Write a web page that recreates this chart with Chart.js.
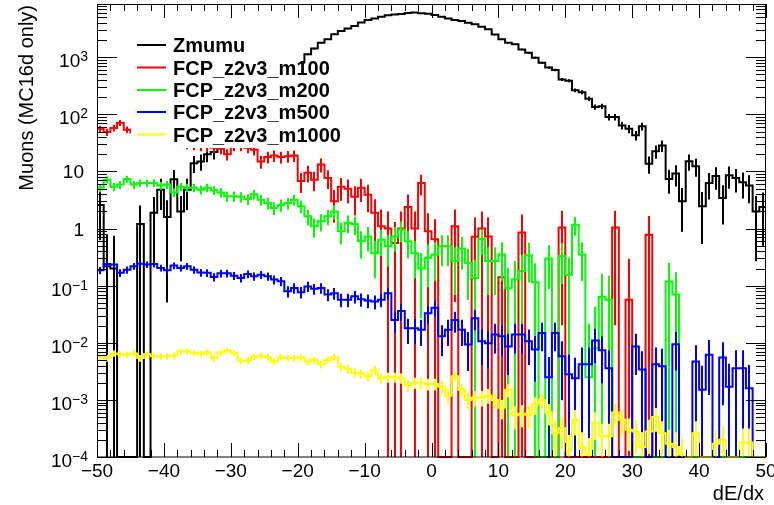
<!DOCTYPE html>
<html>
<head>
<meta charset="utf-8">
<title>dE/dx</title>
<script src="https://cdn.jsdelivr.net/npm/chart.js@4.4.0/dist/chart.umd.min.js"></script>
<style>
  html, body { margin: 0; padding: 0; background: #ffffff; }
  canvas { display: block; }
</style>
</head>
<body>
<canvas id="dedx" width="774" height="505"></canvas>
<script>
// 100 bins of width 1 between -50 and 50
var xLow = -50, xHigh = 50;
var yMin = 1e-4, yMax = 8570;

var zmumu = [
  2.6, 0.22, 0.2, 0, 0, 0, 1.2, 0, 1.9, 4.8,
  1.6, 7.3, 2.0, 4.8, 14, 15, 20, 22, 30, 38,
  50, 65, 86, 115, 150, 200, 265, 350, 460, 610,
  807, 1130, 1420, 1800, 2070, 2520, 2880, 3180, 3540, 4050,
  4480, 4800, 5130, 5430, 5640, 5730, 5970, 6060, 5900, 5810,
  5500, 5130, 4800, 4480, 4300, 4040, 3780, 3440, 3100, 2500,
  2070, 1800, 1690, 1370, 1200, 980, 800, 660, 600, 410,
  390, 265, 245, 188, 135, 139, 90, 90, 64, 56,
  43, 62, 13.7, 22.6, 28.5, 7.4, 9.2, 3.0, 15.1, 12.4,
  2.46, 6.3, 8.3, 3.45, 8.6, 7.7, 6.5, 5.7, 2.0, 2.4
];
var m100 = [
  56, 49, 58, 71, 54, 48, 45, 42, 40, 38,
  36, 34, 32, 30, 29, 28, 27, 26, 25, 20,
  28, 28, 26, 24, 15, 18, 19, 18, 18.5, 19,
  6.8, 9.5, 7.2, 13.2, 7.7, 3.0, 5.4, 5.0, 3.6, 5.2,
  3.9, 1.9, 1.1, 1.0, 0.56, 1.0, 2.4, 1.0, 6.3, 0.9,
  0.65, 0, 0, 1.1, 0, 0, 0.72, 1.0, 0.73, 0,
  0.14, 0, 0, 0.85, 0, 0, 0, 0, 0, 1.04,
  0, 0, 0, 0, 0, 0, 0, 1.04, 0, 0.057,
  0, 0, 0.78, 0, 0, 0, 0, 0, 0, 0,
  0, 0, 0, 0, 0, 0, 0, 0, 0, 0
];
var m200 = [
  5.2, 7.2, 5.4, 5.9, 7.4, 5.9, 6.3, 6.3, 6.3, 5.7,
  5.9, 4.3, 5.4, 5.2, 5.2, 4.8, 5.2, 4.7, 4.3, 3.7,
  3.7, 3.6, 3.3, 4.0, 3.2, 2.8, 2.3, 2.6, 2.8, 3.2,
  2.46, 1.64, 1.1, 1.34, 1.64, 2.0, 0.9, 1.26, 1.2, 0.6,
  0.73, 0.37, 0.64, 0.49, 0.73, 0.96, 0.6, 0.37, 0.2, 0.31,
  0.35, 0.49, 0.49, 0.27, 0.45, 0.25, 0.137, 0.66, 0.27, 0.27,
  0.35, 0.09, 0.13, 0.18, 0.34, 0.115, 0, 0.3, 0, 0.33,
  0.156, 1.17, 0.35, 0.0025, 0.008, 0.064, 0.057, 0, 0, 0,
  0, 0, 0, 0, 0, 0.118, 0.07, 0, 0, 0,
  0, 0, 0, 0, 0, 0, 0, 0, 0, 0
];
var m500 = [
  0.186, 0.24, 0.235, 0.168, 0.19, 0.22, 0.243, 0.235, 0.24, 0.205,
  0.186, 0.225, 0.205, 0.22, 0.19, 0.17, 0.168, 0.142, 0.165, 0.165,
  0.15, 0.137, 0.16, 0.146, 0.156, 0.146, 0.128, 0.12, 0.08, 0.091,
  0.077, 0.097, 0.088, 0.091, 0.07, 0.074, 0.057, 0.057, 0.065, 0.058,
  0.055, 0.053, 0.057, 0.074, 0.025, 0.036, 0.018, 0.018, 0.017, 0.033,
  0.041, 0.013, 0.017, 0.025, 0.017, 0.0093, 0.027, 0.0106, 0.0098, 0.014,
  0.013, 0.0086, 0.014, 0.014, 0.0106, 0.0076, 0.0148, 0.0025, 0.0148, 0.0058,
  0.0028, 0.0024, 0.0042, 0.0042, 0.011, 0.0074, 0.0036, 0, 0, 0,
  0.0086, 0.0034, 0, 0.0042, 0.0039, 0, 0.0094, 0, 0, 0.0047,
  0.0015, 0.0062, 0, 0.0055, 0.0017, 0.0036, 0.0036, 0.0016, 0, 0
];
var m1000 = [
  0.0058, 0.0054, 0.0065, 0.0063, 0.0062, 0.0065, 0.0054, 0.0063, 0.0058, 0.0058,
  0.0058, 0.006, 0.0071, 0.0071, 0.0066, 0.0064, 0.0068, 0.0054, 0.0068, 0.0073,
  0.0066, 0.0049, 0.0049, 0.0057, 0.0059, 0.0056, 0.0047, 0.0056, 0.0054, 0.0054,
  0.0056, 0.0047, 0.005, 0.0042, 0.005, 0.0056, 0.0038, 0.0035, 0.003, 0.0029,
  0.0026, 0.0033, 0.0024, 0.0025, 0.0025, 0.0024, 0.0018, 0.002, 0.002, 0.0019,
  0.0019, 0.0017, 0.0012, 0.0026, 0.0015, 0.001, 0.0011, 0.0011, 0.0012, 0.001,
  0.00073, 0.0015, 0.00054, 0.00057, 0.00055, 0.00083, 0.001, 0.0006, 0.00026, 0.00032,
  0.00013, 0.00045, 0.00015, 0.00011, 0.0004, 0.00023, 0.00023, 0.0006, 0.00045, 0.0003,
  0.00028, 0.00015, 0.00028, 0.0005, 0.00026, 0.00017, 0.00015, 0.00011, 0, 0.00026,
  0, 0, 0.00017, 0.0002, 0, 0, 0.00018, 0.00018, 0, 0
];

var names = ['Zmumu', 'FCP_z2v3_m100', 'FCP_z2v3_m200', 'FCP_z2v3_m500', 'FCP_z2v3_m1000'];
var colours = ['#000000', '#ff0000', '#00ff00', '#0000ff', '#ffff00'];
// weight of a single event in each sample (error = sqrt(w * content))
var eventWeight = [1.5, 1, 0.15, 0.004, 0.0001];
var series = [zmumu, m100, m200, m500, m1000];

var xMajor = [-50, -40, -30, -20, -10, 0, 10, 20, 30, 40, 50];
var yDecades = [-4, -3, -2, -1, 0, 1, 2, 3];

var FONT = "'Liberation Sans', Arial, Helvetica, sans-serif";

// empty bins sit on the lower edge of the frame
function stepPoints(vals) {
  var pts = [];
  for (var i = 0; i < vals.length; i++) {
    pts.push({ x: xLow + i, y: Math.max(vals[i], yMin) });
  }
  pts.push({ x: xHigh, y: Math.max(vals[vals.length - 1], yMin) });
  return pts;
}

var datasets = series.map(function (vals, k) {
  return {
    label: names[k],
    data: stepPoints(vals),
    borderColor: colours[k],
    borderWidth: 2,
    borderJoinStyle: 'miter',
    pointRadius: 0,
    stepped: true,
    fill: false,
    order: series.length - k,
    clip: { left: 0, top: 0, right: 0, bottom: 1 }
  };
});

// vertical error bars, drawn right after each histogram
var errorBars = {
  id: 'errorBars',
  afterDatasetDraw: function (chart, args) {
    var k = args.index;
    var vals = series[k], w = eventWeight[k];
    var xs = chart.scales.x, ys = chart.scales.y, a = chart.chartArea;
    var ctx = chart.ctx;
    ctx.save();
    ctx.beginPath();
    ctx.rect(a.left, a.top, a.right - a.left, a.bottom - a.top);
    ctx.clip();
    ctx.strokeStyle = colours[k];
    ctx.lineWidth = 2;
    ctx.beginPath();
    for (var i = 0; i < vals.length; i++) {
      var v = vals[i];
      if (v <= 0) continue;
      var e = Math.sqrt(w * v);
      var px = Math.round(xs.getPixelForValue(xLow + i + 0.5));
      var top = ys.getPixelForValue(v + e);
      var bot = (v - e) > yMin ? ys.getPixelForValue(v - e) : a.bottom;
      ctx.moveTo(px, top);
      ctx.lineTo(px, bot);
    }
    ctx.stroke();
    ctx.restore();
  }
};

// legend box, frame, ticks and labels
var frame = {
  id: 'frame',
  afterDraw: function (chart) {
    var ctx = chart.ctx, a = chart.chartArea;
    var xs = chart.scales.x, ys = chart.scales.y;
    ctx.save();

    // legend
    ctx.fillStyle = '#ffffff';
    ctx.fillRect(131, 28, 170, 120);
    var rows = [45, 67.5, 90, 112, 134.5];
    ctx.font = 'bold 20px ' + FONT;
    ctx.textAlign = 'left';
    ctx.textBaseline = 'alphabetic';
    for (var k = 0; k < names.length; k++) {
      ctx.strokeStyle = colours[k];
      ctx.lineWidth = 2;
      ctx.beginPath();
      ctx.moveTo(137, rows[k]);
      ctx.lineTo(166, rows[k]);
      ctx.stroke();
      ctx.fillStyle = '#000000';
      ctx.fillText(names[k], 173, rows[k] + 7);
    }

    // frame
    ctx.strokeStyle = '#000000';
    ctx.lineWidth = 1;
    ctx.strokeRect(a.left + 0.5, a.top + 0.5, a.right - a.left - 1, a.bottom - a.top - 0.5);

    // x ticks, bottom and top
    ctx.beginPath();
    for (var t = xLow; t <= xHigh; t += 2) {
      var px = Math.round(xs.getPixelForValue(t)) + 0.5;
      var len = (t % 10 === 0) ? 14 : 7;
      ctx.moveTo(px, a.bottom);
      ctx.lineTo(px, a.bottom - len);
      ctx.moveTo(px, a.top);
      ctx.lineTo(px, a.top + len);
    }
    // y ticks, left and right
    for (var d = yDecades[0]; d <= yDecades[yDecades.length - 1] + 1; d++) {
      for (var m = 1; m <= 9; m++) {
        var v = m * Math.pow(10, d);
        if (v < yMin || v > yMax) continue;
        var py = Math.round(ys.getPixelForValue(v)) + 0.5;
        var l = (m === 1) ? 20 : 10;
        ctx.moveTo(a.left, py);
        ctx.lineTo(a.left + l, py);
        ctx.moveTo(a.right, py);
        ctx.lineTo(a.right - l, py);
      }
    }
    ctx.stroke();

    // x labels
    ctx.fillStyle = '#000000';
    ctx.font = '19px ' + FONT;
    ctx.textAlign = 'center';
    ctx.textBaseline = 'alphabetic';
    xMajor.forEach(function (t) {
      var s = t < 0 ? '\u2212' + Math.abs(t) : String(t);
      ctx.fillText(s, xs.getPixelForValue(t), 477);
    });

    // y labels: 1, 10 and powers of ten
    yDecades.forEach(function (d) {
      var py = ys.getPixelForValue(Math.pow(10, d));
      ctx.textAlign = 'right';
      if (d === 0 || d === 1) {
        ctx.font = '19px ' + FONT;
        ctx.fillText(d === 0 ? '1' : '10', 84, py + 7);
      } else {
        var sup = d < 0 ? '\u2212' + Math.abs(d) : String(d);
        ctx.font = '14px ' + FONT;
        var sw = ctx.measureText(sup).width;
        ctx.fillText(sup, 88, py + 4);
        ctx.font = '19px ' + FONT;
        ctx.fillText('10', 88 - sw, py + 10);
      }
    });

    // axis titles
    ctx.font = '20px ' + FONT;
    ctx.textAlign = 'right';
    ctx.fillText('dE/dx', 764, 500);
    ctx.translate(33, 5);
    ctx.rotate(-Math.PI / 2);
    ctx.fillText('Muons (MC16d only)', 0, 0);
    ctx.restore();
  }
};

new Chart(document.getElementById('dedx'), {
  type: 'line',
  data: { datasets: datasets },
  options: {
    responsive: false,
    animation: false,
    devicePixelRatio: 1,
    events: [],
    layout: { padding: { left: 97, right: 8, top: 4, bottom: 48 } },
    scales: {
      x: { type: 'linear', min: xLow, max: xHigh, bounds: 'data', display: false },
      y: { type: 'logarithmic', min: yMin, max: yMax, bounds: 'data', display: false }
    },
    plugins: {
      legend: { display: false },
      tooltip: { enabled: false }
    }
  },
  plugins: [errorBars, frame]
});
</script>
</body>
</html>
